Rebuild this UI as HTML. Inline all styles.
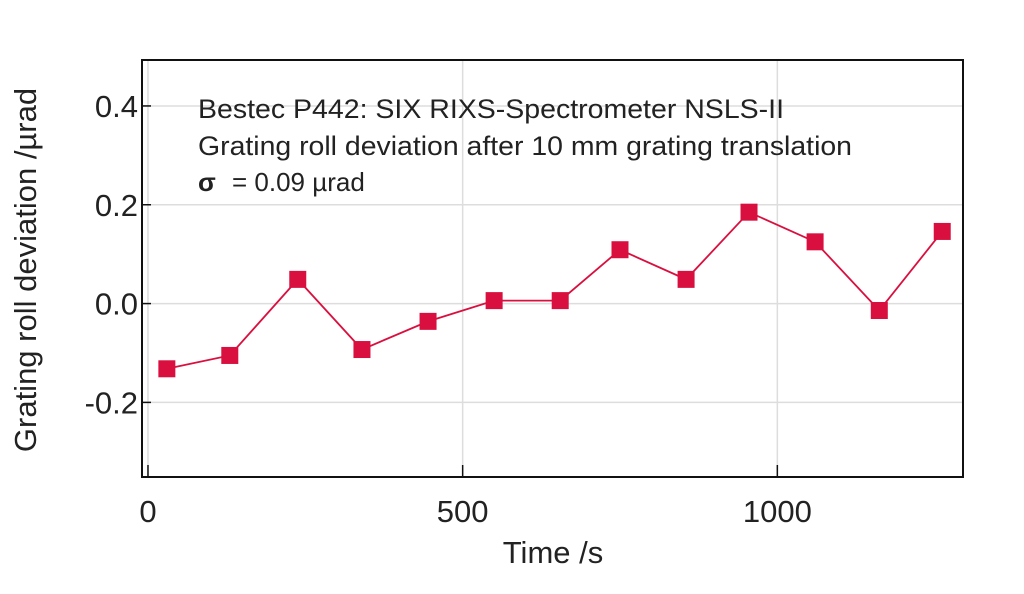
<!DOCTYPE html>
<html><head><meta charset="utf-8"><style>
html,body{margin:0;padding:0;background:#fff;}
svg text{font-family:"Liberation Sans",sans-serif;fill:#222;}
</style></head><body>
<svg id="chart" width="1024" height="589" xmlns="http://www.w3.org/2000/svg">
<g id="grid"></g>
<g id="series"></g>
<rect x="142" y="60" width="821" height="417" fill="none" stroke="#111" stroke-width="2"/>
<g id="ticks"></g>
<text x="198" y="118" font-size="27" textLength="586" lengthAdjust="spacingAndGlyphs">Bestec P442: SIX RIXS-Spectrometer NSLS-II</text>
<text x="198" y="155" font-size="27" textLength="654" lengthAdjust="spacingAndGlyphs">Grating roll deviation after 10 mm grating translation</text>
<text x="198" y="191" font-size="26"><tspan font-weight="bold">σ</tspan><tspan x="232">= 0.09 µrad</tspan></text>
<text x="553" y="563" font-size="31" text-anchor="middle">Time /s</text>
<text transform="translate(36,270) rotate(-90)" font-size="31" text-anchor="middle">Grating roll deviation /µrad</text>
</svg>
<script>
const times=[30,130,238,340,445,550,655,750,855,955,1060,1162,1262];
const values=[-0.132,-0.105,0.049,-0.093,-0.036,0.006,0.006,0.109,0.049,0.185,0.125,-0.014,0.146];
const xTicks=[0,500,1000];
const yTicks=[-0.2,0.0,0.2,0.4];
const yTickLabels=["-0.2","0.0","0.2","0.4"];
const NS="http://www.w3.org/2000/svg";
const X0=142,X1=963,Y0=60,Y1=477;
const xMin=-9.5,xMax=1295,yMin=-0.351,yMax=0.493;
const xs=t=>X0+(t-xMin)/(xMax-xMin)*(X1-X0);
const ys=v=>Y1-(v-yMin)/(yMax-yMin)*(Y1-Y0);
function mk(tag,attrs,parent){const e=document.createElementNS(NS,tag);for(const k in attrs)e.setAttribute(k,attrs[k]);document.getElementById(parent).appendChild(e);return e;}
yTicks.forEach((v,i)=>{
 const g=mk('line',{x1:X0,x2:X1,y1:ys(v),y2:ys(v),stroke:'#ddd','stroke-width':1.5},'grid');
 
 
 const t=mk('line',{x1:X0,x2:X0+9,y1:ys(v),y2:ys(v),stroke:'#111','stroke-width':1.5},'ticks');
 
 
 const l=mk('text',{x:138,y:ys(v)+11,'font-size':31,'text-anchor':'end'},'ticks');
 l.textContent=yTickLabels[i];
 
 
});
xTicks.forEach(v=>{
 const g=mk('line',{x1:xs(v),x2:xs(v),y1:Y0,y2:Y1,stroke:'#ddd','stroke-width':1.5},'grid');
 
 
 const t=mk('line',{x1:xs(v),x2:xs(v),y1:Y1,y2:Y1-12,stroke:'#111','stroke-width':1.5},'ticks');
 
 
 const l=mk('text',{x:xs(v),y:522,'font-size':31,'text-anchor':'middle'},'ticks');
 l.textContent=String(v);
 
 
});
const pts=times.map((t,i)=>xs(t)+','+ys(values[i])).join(' ');
const pl=mk('polyline',{points:pts,fill:'none',stroke:'#d9103f','stroke-width':1.8},'series');


times.forEach((t,i)=>{
 const r=mk('rect',{x:xs(t)-8.5,y:ys(values[i])-8.5,width:17,height:17,fill:'#d9103f'},'series');
 
 
});
</script>
</body></html>
